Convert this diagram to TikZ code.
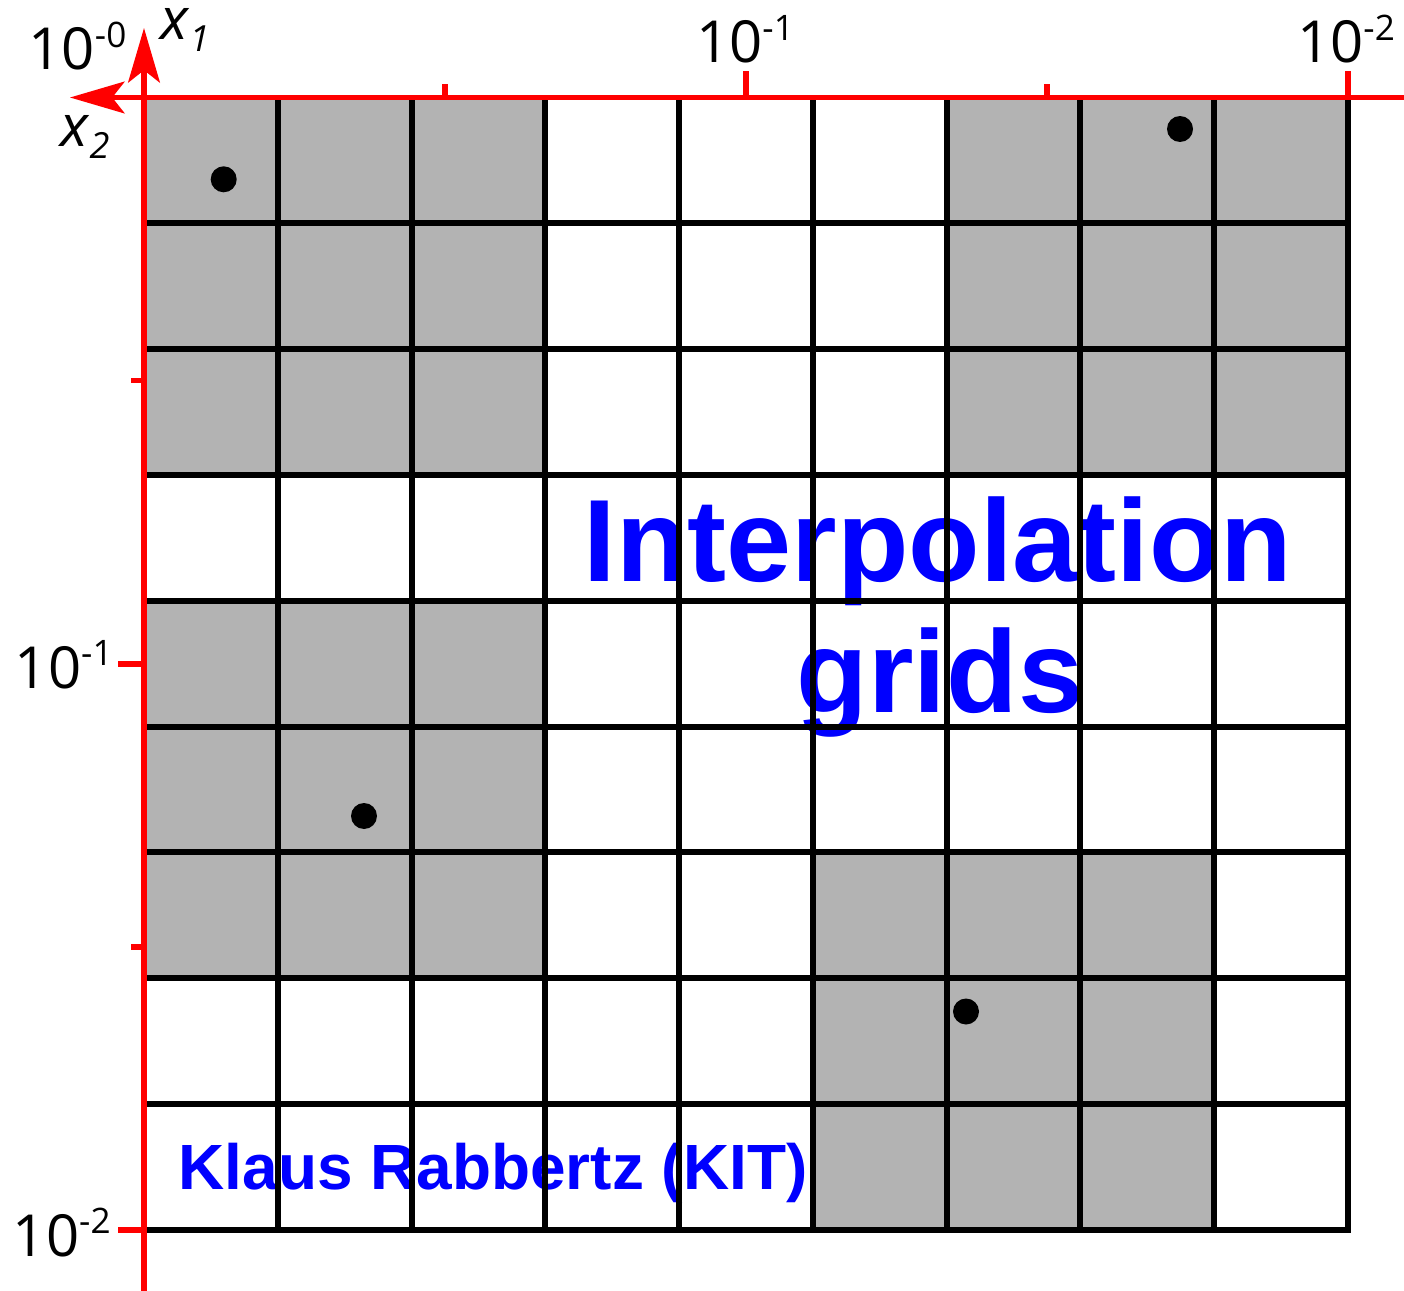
\documentclass[tikz,border=0pt]{standalone}
\usepackage{fontspec}
\setmainfont{Open Sans}
\newfontfamily\titlefont{Liberation Sans}
\usetikzlibrary{arrows.meta}
\definecolor{cellgray}{RGB}{179,179,179}
\definecolor{textblue}{RGB}{0,0,255}
\tikzset{
  cell/.style={fill=cellgray},
  gridline/.style={line width=3.4pt,line cap=rect},
  axis/.style={line width=3.2pt,red,-{Stealth[length=31pt,width=18pt,inset=7pt]}},
  tick/.style={line width=3.2pt,red},
  dot/.style={circle,fill,minimum size=0.52cm,inner sep=0pt},
  scalelab/.style={inner sep=0pt,font=\fontsize{33}{33}\selectfont},
  bigtext/.style={inner sep=0pt,text=textblue,font=\titlefont\bfseries\fontsize{66.6}{66.6}\selectfont},
  nametext/.style={inner sep=0pt,text=textblue,font=\titlefont\bfseries\fontsize{36.4}{36.4}\selectfont}
}
\newcommand\tenpow[1]{10\raisebox{13pt}{\fontsize{20}{20}\selectfont -#1}}
\newcommand\axvar[2]{\textit{#1}\raisebox{-6.5pt}{\fontsize{20.5}{20.5}\selectfont\itshape #2}}

\begin{document}
\begin{tikzpicture}[x=0.02cm,y=-0.02cm]
\useasboundingbox (0,0) rectangle (1404,1291);
\def\cw{133.78}
\def\rh{125.83}

% shaded cells
\foreach \ca/\ra/\cb/\rb in {0/0/3/3, 6/0/9/3, 0/4/3/7, 5/6/8/9}
  \fill[cell] ({144+\ca*\cw},{97.5+\ra*\rh}) rectangle ({144+\cb*\cw},{97.5+\rb*\rh});

\node[bigtext,anchor=base] (interp) at (938,581) {Interpolation};
\node[bigtext,anchor=base] (grids) at (940,712) {grids};
\node[nametext,anchor=base] (author) at (493,1189) {Klaus Rabbertz (KIT)};

% grid
\foreach \k in {1,...,9} {
  \draw[gridline] ({144+\k*\cw},97.5) -- ({144+\k*\cw},1230);
  \draw[gridline] (144,{97.5+\k*\rh}) -- (1348,{97.5+\k*\rh});
}

\node[dot] (p1) at (223.7,179.3) {};
\node[dot] (p2) at (1180,129) {};
\node[dot] (p3) at (364,816) {};
\node[dot] (p4) at (966,1011.5) {};

% axes
\coordinate (o) at (144,97.5);
\coordinate (x1end) at (144,1291);
\coordinate (x1tip) at (144,28);
\coordinate (x2end) at (1404,97.5);
\coordinate (x2tip) at (70,97.5);
\foreach \t/\l in {0.25/13, 0.5/26, 0.75/13, 1/26} {
  \draw[tick] ({144+9*\t*\cw},97.5) -- ++(0,-\l);
  \draw[tick] (144,{97.5+9*\t*\rh}) -- ++(-\l,0);
}
\draw[axis] (x2end) -- (x2tip);
\draw[axis] (x1end) -- (x1tip);

\node[scalelab,anchor=base] (top0) at (77.5,70) {\tenpow{0}};
\node[scalelab,anchor=base] (top1) at (745,63) {\tenpow{1}};
\node[scalelab,anchor=base] (top2) at (1346,63) {\tenpow{2}};
\node[scalelab,anchor=base east] (left1) at (113,688) {\tenpow{1}};
\node[scalelab,anchor=base east] (left2) at (111,1256) {\tenpow{2}};
\node[scalelab,anchor=base west] (x1lab) at (160,40) {\axvar{x}{1}};
\node[scalelab,anchor=base west] (x2lab) at (60,147) {\axvar{x}{2}};
\end{tikzpicture}
\end{document}
